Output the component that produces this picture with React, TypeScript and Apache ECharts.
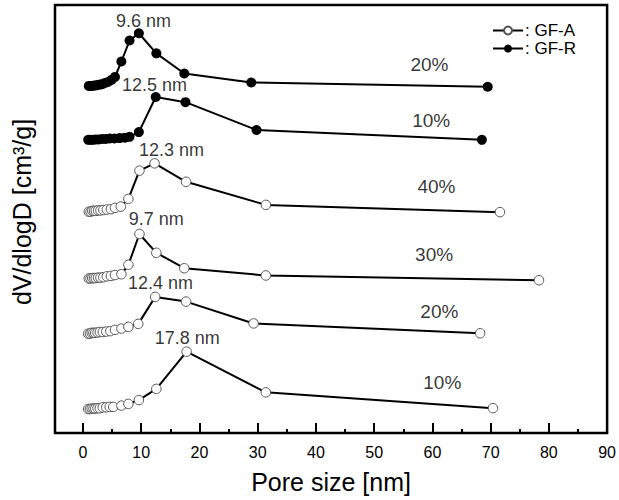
import React, { useEffect, useRef } from 'react';
import * as echarts from 'echarts';

// Pore size [nm] and dV/dlogD (offset, arbitrary units) for each curve
const poreGFR20 = [1.0, 1.3, 1.6, 1.9, 2.2, 2.5, 2.9, 3.3, 3.8, 4.3, 4.9, 5.5, 6.6, 8.0, 9.6, 12.6, 17.4, 28.9, 69.5];
const dvGFR20 = [81.1, 81.1, 81.1, 81.2, 81.2, 81.3, 81.4, 81.5, 81.8, 82.0, 82.5, 83.2, 86.8, 91.7, 93.4, 88.7, 84.0, 81.9, 80.9];

const poreGFR10 = [0.9, 1.3, 1.7, 2.2, 2.7, 3.3, 3.9, 4.6, 5.4, 6.3, 7.2, 8.0, 9.6, 12.5, 17.6, 29.8, 68.5];
const dvGFR10 = [68.5, 68.5, 68.5, 68.6, 68.6, 68.7, 68.7, 68.8, 68.8, 68.9, 69.0, 69.2, 70.3, 78.5, 77.3, 70.8, 68.5];

const poreGFA40 = [1.0, 1.3, 1.6, 1.9, 2.2, 2.6, 3.0, 3.5, 4.1, 4.8, 5.5, 6.5, 7.8, 9.7, 12.3, 17.7, 31.4, 71.6];
const dvGFA40 = [51.7, 51.7, 51.9, 51.9, 51.9, 52.0, 52.0, 52.1, 52.2, 52.3, 52.6, 52.9, 54.7, 61.3, 63.0, 58.7, 53.3, 51.6];

const poreGFA30 = [1.0, 1.3, 1.6, 1.9, 2.2, 2.6, 3.0, 3.5, 4.1, 4.8, 5.5, 6.6, 7.8, 9.7, 12.6, 17.4, 31.4, 78.3];
const dvGFA30 = [36.1, 36.1, 36.2, 36.2, 36.2, 36.3, 36.3, 36.4, 36.6, 36.7, 36.9, 37.1, 39.3, 46.5, 42.1, 38.5, 36.8, 35.7];

const poreGFA20 = [0.9, 1.2, 1.5, 1.8, 2.1, 2.5, 2.9, 3.4, 4.0, 4.7, 5.5, 6.6, 7.8, 9.5, 12.4, 17.7, 29.3, 68.2];
const dvGFA20 = [23.2, 23.2, 23.4, 23.4, 23.4, 23.5, 23.6, 23.6, 23.7, 23.8, 24.1, 24.4, 24.8, 25.5, 31.8, 30.7, 25.6, 23.3];

const poreGFA10 = [0.9, 1.2, 1.5, 1.8, 2.1, 2.5, 2.9, 3.4, 4.0, 4.6, 5.2, 6.6, 7.8, 9.6, 12.6, 17.8, 31.4, 70.4];
const dvGFA10 = [5.6, 5.6, 5.7, 5.7, 5.7, 5.8, 5.8, 6.0, 6.0, 6.1, 6.1, 6.4, 6.8, 7.7, 10.3, 19.0, 9.5, 5.8];

// Annotations
const peakTexts = ['9.6 nm', '12.5 nm', '12.3 nm', '9.7 nm', '12.4 nm', '17.8 nm'];
const peakTextX = [10.4, 12.3, 15.2, 12.6, 13.3, 17.9];
const peakTextY = [96.3, 81.3, 66.1, 50.0, 35.0, 22.2];

const pctTexts = ['20%', '10%', '40%', '30%', '20%', '10%'];
const pctTextX = [59.5, 59.8, 60.7, 60.3, 61.2, 61.7];
const pctTextY = [86.0, 73.1, 57.5, 41.8, 28.5, 11.9];

const majorTicks = [0, 10, 20, 30, 40, 50, 60, 70, 80, 90];
const minorTicks = [5, 15, 25, 35, 45, 55, 65, 75, 85];

const FONT = '"Liberation Sans", Arial, Helvetica, sans-serif';

const zip = (xs: number[], ys: number[]) => xs.map((x, i) => [x, ys[i]]);

export default function App() {
  const ref = useRef<HTMLDivElement>(null);
  useEffect(() => {
    document.body.style.margin = '0';
    const chart = echarts.init(ref.current!, null, { renderer: 'svg' });

    const curves = [
      { name: 'GF-R', x: poreGFR20, y: dvGFR20 },
      { name: 'GF-R', x: poreGFR10, y: dvGFR10 },
      { name: 'GF-A', x: poreGFA40, y: dvGFA40 },
      { name: 'GF-A', x: poreGFA30, y: dvGFA30 },
      { name: 'GF-A', x: poreGFA20, y: dvGFA20 },
      { name: 'GF-A', x: poreGFA10, y: dvGFA10 },
    ];

    const lineSeries = curves.map((c) => ({
      type: 'line',
      name: c.name,
      data: zip(c.x, c.y),
      symbol: 'circle',
      symbolSize: c.name === 'GF-R' ? 10 : 9.5,
      showSymbol: true,
      itemStyle:
        c.name === 'GF-R'
          ? { color: '#000', borderColor: '#000', borderWidth: 0 }
          : { color: '#fff', borderColor: '#555', borderWidth: 1 },
      lineStyle: { color: '#000', width: 2 },
      emphasis: { disabled: true },
      z: 3,
    }));

    const textData = [
      ...peakTexts.map((t, i) => ({ value: [peakTextX[i], peakTextY[i]], text: t, size: 18 })),
      ...pctTexts.map((t, i) => ({ value: [pctTextX[i], pctTextY[i]], text: t, size: 19 })),
    ];

    const annotationSeries = {
      type: 'scatter',
      name: 'labels',
      silent: true,
      symbolSize: 1,
      itemStyle: { color: 'rgba(0,0,0,0)' },
      data: textData.map((d) => ({
        value: d.value,
        label: {
          show: true,
          position: 'inside',
          formatter: d.text,
          fontSize: d.size,
          color: '#000',
          fontFamily: FONT,
        },
      })),
      z: 5,
    };

    chart.setOption({
      animation: false,
      backgroundColor: '#fff',
      textStyle: { fontFamily: FONT, color: '#000' },
      grid: {
        left: 55,
        right: 8,
        top: 5,
        bottom: 67,
        show: true,
        borderColor: '#000',
        borderWidth: 2.5,
        backgroundColor: 'transparent',
      },
      legend: {
        data: ['GF-A', 'GF-R'],
        orient: 'vertical',
        left: 492,
        top: 22,
        padding: 0,
        itemGap: 1,
        itemWidth: 30,
        itemHeight: 10,
        formatter: (n: string) => ': ' + n,
        textStyle: { fontSize: 17, color: '#000', fontFamily: FONT, padding: [0, 0, 0, -3] },
        selectedMode: false,
      },
      xAxis: [
        {
          type: 'value',
          min: -4.8,
          max: 90,
          position: 'bottom',
          axisLine: { show: false },
          splitLine: { show: false },
          axisTick: {
            show: true,
            inside: true,
            length: 10,
            customValues: majorTicks,
            lineStyle: { color: '#000', width: 2 },
          },
          axisLabel: {
            show: true,
            customValues: majorTicks,
            fontSize: 16,
            color: '#000',
            margin: 11,
            fontFamily: FONT,
          },
          name: 'Pore size [nm]',
          nameLocation: 'middle',
          nameGap: 36,
          nameTextStyle: { fontSize: 25, color: '#000', fontFamily: FONT },
        },
        {
          type: 'value',
          min: -4.8,
          max: 90,
          position: 'bottom',
          axisLine: { show: false },
          splitLine: { show: false },
          axisLabel: { show: false },
          axisTick: {
            show: true,
            inside: true,
            length: 4,
            customValues: minorTicks,
            lineStyle: { color: '#000', width: 2 },
          },
        },
      ],
      yAxis: {
        type: 'value',
        min: 0,
        max: 100,
        axisLine: { show: false },
        axisTick: { show: false },
        axisLabel: { show: false },
        splitLine: { show: false },
      },
      graphic: [
        {
          type: 'text',
          x: 22,
          y: 212,
          rotation: Math.PI / 2,
          style: {
            text: 'dV/dlogD [cm³/g]',
            fontSize: 25,
            fontFamily: FONT,
            fill: '#000',
            textAlign: 'center',
            textVerticalAlign: 'middle',
          },
        },
      ],
      series: [...lineSeries, annotationSeries],
    });

    return () => chart.dispose();
  }, []);
  return <div ref={ref} style={{ width: 619, height: 500 }} />;
}
